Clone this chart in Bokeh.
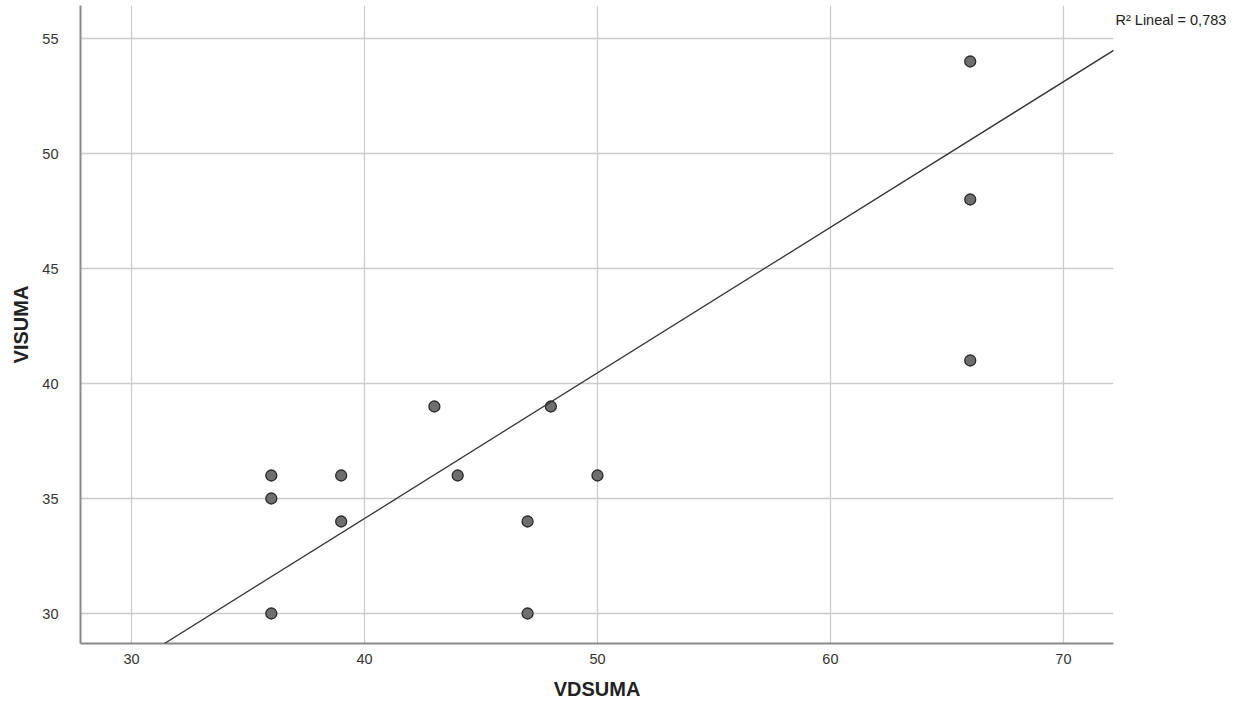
from bokeh.plotting import figure
from bokeh.models import Range1d, Slope, FixedTicker, LinearAxis
from bokeh.embed import file_html
from bokeh.resources import INLINE

# Data
vdsuma = [36, 36, 36, 39, 39, 43, 44, 47, 47, 48, 50, 66, 66, 66]
visuma = [36, 35, 30, 36, 34, 39, 36, 34, 30, 39, 36, 54, 48, 41]
fit_slope = 0.633
fit_intercept = 8.81
r2_text = "R\u00b2 Lineal = 0,783"
r2_y = 55.8
x_ticks = [30, 40, 50, 60, 70]
y_ticks = [30, 35, 40, 45, 50, 55]

p = figure(width=1240, height=702, output_backend="svg", toolbar_location=None,
           x_range=Range1d(27.81, 72.15), y_range=Range1d(28.696, 56.435),
           min_border_left=80, min_border_right=127, min_border_top=5,
           min_border_bottom=59)
p.outline_line_color = None
p.background_fill_color = "white"

p.xgrid.grid_line_color = "#cccccc"
p.ygrid.grid_line_color = "#cccccc"
p.xgrid.grid_line_width = 1.3
p.ygrid.grid_line_width = 1.3
p.xaxis.ticker = FixedTicker(ticks=x_ticks)
p.yaxis.ticker = FixedTicker(ticks=y_ticks)

for ax in (p.xaxis[0], p.yaxis[0]):
    ax.axis_line_color = "#8a8a8a"
    ax.axis_line_width = 2
    ax.major_tick_line_color = None
    ax.minor_tick_line_color = None
    ax.major_tick_out = 0
    ax.major_tick_in = 0
    ax.major_label_text_font = "Liberation Sans"
    ax.major_label_text_font_size = "14.5px"
    ax.major_label_text_color = "#333333"
    ax.axis_label_text_font = "Liberation Sans"
    ax.axis_label_text_font_size = "20px"
    ax.axis_label_text_font_style = "bold"
    ax.axis_label_text_color = "#222222"

p.xaxis.axis_label = "VDSUMA"
p.yaxis.axis_label = "VISUMA"
p.xaxis.major_label_standoff = 10
p.yaxis.major_label_standoff = 22
p.xaxis.axis_label_standoff = 11
p.yaxis.axis_label_standoff = 7

# R² annotation as a horizontal label in the right-hand panel
r_ax = LinearAxis(ticker=FixedTicker(ticks=[r2_y]),
                  major_label_overrides={r2_y: r2_text})
r_ax.axis_line_color = None
r_ax.major_tick_line_color = None
r_ax.minor_tick_line_color = None
r_ax.major_tick_out = 0
r_ax.major_tick_in = 0
r_ax.major_label_standoff = 2
r_ax.major_label_text_font = "Liberation Sans"
r_ax.major_label_text_font_size = "14.5px"
r_ax.major_label_text_color = "#222222"
p.add_layout(r_ax, "right")

p.add_layout(Slope(gradient=fit_slope, y_intercept=fit_intercept,
                   line_color="#333333", line_width=1.3))

p.scatter(vdsuma, visuma, size=11, fill_color="#6e6e6e", line_color="#2b2b2b",
          line_width=1.3)

open("out.html", "w").write(file_html(p, INLINE))
